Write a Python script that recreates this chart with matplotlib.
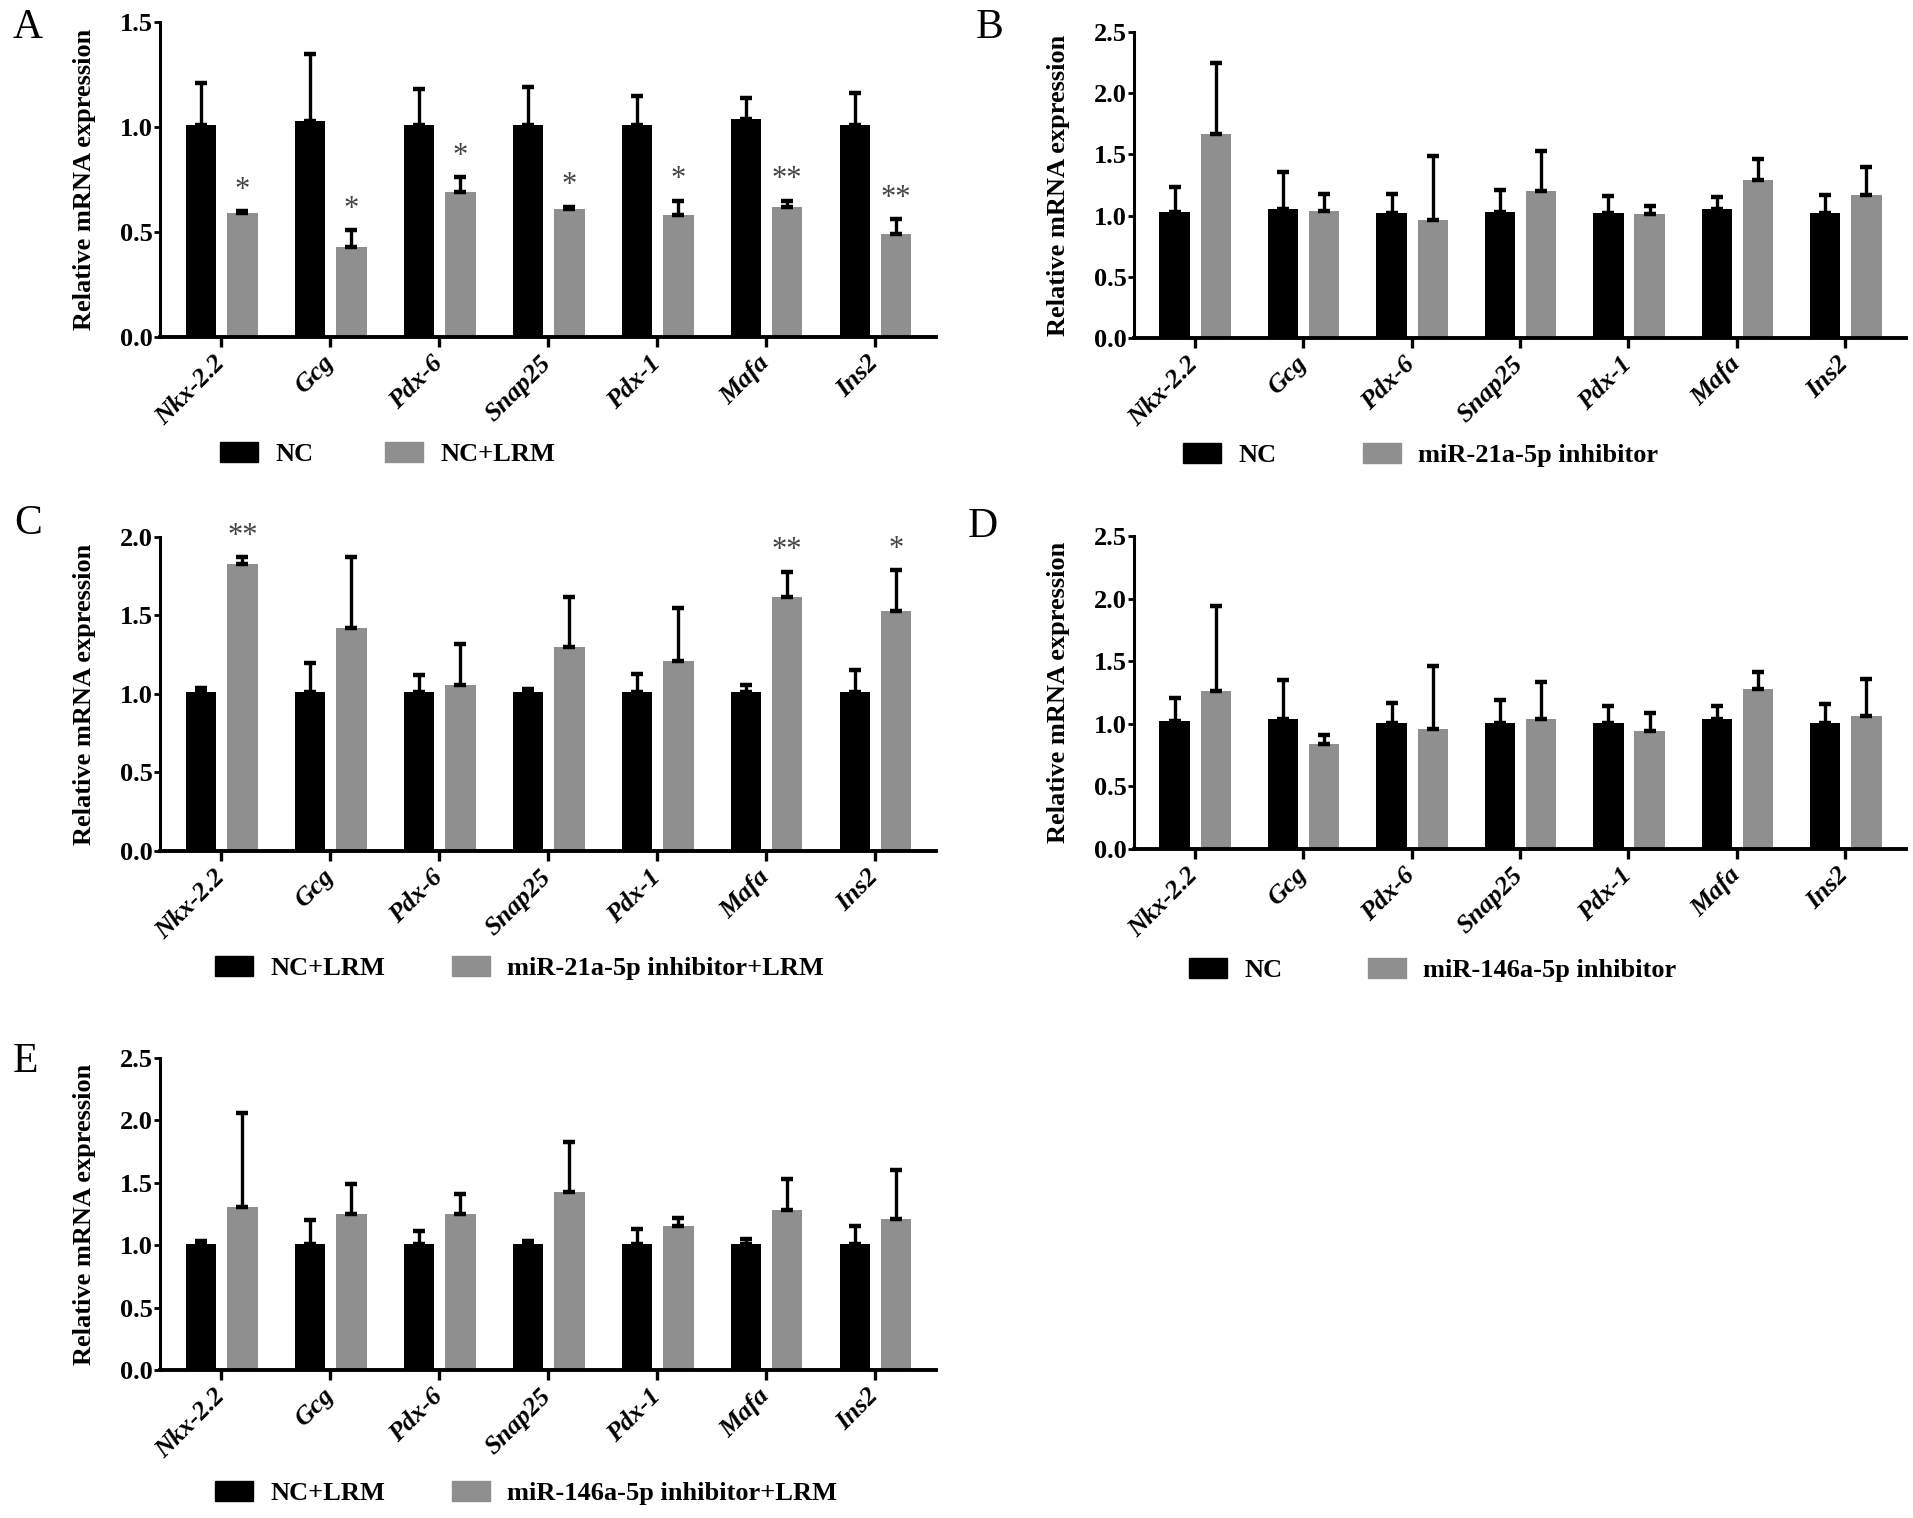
import numpy as np
import matplotlib.pyplot as plt
from matplotlib.patches import Patch

plt.rcParams['font.family'] = ['Liberation Serif', 'DejaVu Serif']

genes = ["Nkx-2.2", "Gcg", "Pdx-6", "Snap25", "Pdx-1", "Mafa", "Ins2"]

# panel A
a_nc = [1.01, 1.03, 1.01, 1.01, 1.01, 1.04, 1.01]
a_nc_err = [0.20, 0.32, 0.17, 0.18, 0.14, 0.10, 0.15]
a_lrm = [0.59, 0.43, 0.69, 0.61, 0.58, 0.62, 0.49]
a_lrm_err = [0.01, 0.08, 0.07, 0.01, 0.07, 0.03, 0.07]
a_sig = ["*", "*", "*", "*", "*", "**", "**"]

# panel B
b_nc = [1.03, 1.05, 1.02, 1.03, 1.02, 1.05, 1.02]
b_nc_err = [0.20, 0.31, 0.16, 0.18, 0.14, 0.10, 0.15]
b_inh = [1.67, 1.04, 0.96, 1.20, 1.01, 1.29, 1.17]
b_inh_err = [0.58, 0.14, 0.53, 0.33, 0.07, 0.17, 0.23]

# panel C
c_nc = [1.01, 1.01, 1.01, 1.01, 1.01, 1.01, 1.01]
c_nc_err = [0.03, 0.19, 0.11, 0.02, 0.12, 0.05, 0.14]
c_inh = [1.83, 1.42, 1.06, 1.30, 1.21, 1.62, 1.53]
c_inh_err = [0.04, 0.45, 0.26, 0.32, 0.34, 0.16, 0.26]
c_sig = ["**", "", "", "", "", "**", "*"]

# panel D
d_nc = [1.02, 1.04, 1.01, 1.01, 1.01, 1.04, 1.01]
d_nc_err = [0.19, 0.31, 0.16, 0.18, 0.13, 0.10, 0.15]
d_inh = [1.26, 0.84, 0.96, 1.04, 0.94, 1.28, 1.06]
d_inh_err = [0.68, 0.07, 0.50, 0.29, 0.15, 0.13, 0.30]

# panel E
e_nc = [1.01, 1.01, 1.01, 1.01, 1.01, 1.01, 1.01]
e_nc_err = [0.02, 0.19, 0.10, 0.02, 0.12, 0.04, 0.14]
e_inh = [1.31, 1.25, 1.25, 1.43, 1.15, 1.28, 1.21]
e_inh_err = [0.75, 0.24, 0.16, 0.40, 0.07, 0.25, 0.39]

W, H = 1913, 1518
fig = plt.figure(figsize=(W / 100, H / 100), dpi=100)

BLACK = "#000000"
GREY = "#8f8f8f"


def px(x, y):
    return x / W, 1 - y / H


def panel(rect, letter, letter_xy, ymax, nc, nc_err, tr, tr_err, names, leg_y, leg_x, sig=None):
    left, top, right, bottom = rect
    ax = fig.add_axes([left / W, 1 - bottom / H, (right - left) / W, (bottom - top) / H])
    x = np.arange(len(genes))
    w = 0.28
    ax.bar(x - 0.185, nc, w, color=BLACK, zorder=2)
    ax.bar(x + 0.195, tr, w, color=GREY, zorder=2)
    ax.errorbar(x - 0.185, nc, yerr=[np.zeros(len(nc)), nc_err], fmt="none",
                ecolor="black", elinewidth=2.4, capsize=4.5, capthick=3.2, zorder=3)
    ax.errorbar(x + 0.195, tr, yerr=[np.zeros(len(tr)), tr_err], fmt="none",
                ecolor="black", elinewidth=2.4, capsize=4.5, capthick=3.2, zorder=3)
    if sig is not None:
        for i, s in enumerate(sig):
            if s:
                ax.annotate(s, (x[i] + 0.195, tr[i] + tr_err[i]), xytext=(0, 15),
                            textcoords="offset points", ha="center", va="center",
                            fontsize=22, color="#444444", annotation_clip=False)
    ax.set_xlim(-0.56, 6.56)
    ax.set_ylim(0, ymax)
    ax.set_yticks(np.arange(0, ymax + 0.01, 0.5))
    ax.set_yticklabels(["%.1f" % v for v in np.arange(0, ymax + 0.01, 0.5)],
                       fontsize=19, fontweight="bold")
    ax.set_xticks(x)
    ax.set_xticklabels(genes, rotation=45, ha="right", va="center", rotation_mode="anchor",
                       fontsize=19, fontweight="bold", fontstyle="italic")
    for sp in ["top", "right"]:
        ax.spines[sp].set_visible(False)
    ax.spines["left"].set_linewidth(2.2)
    ax.spines["bottom"].set_linewidth(2.8)
    ax.tick_params(axis="y", length=4, width=2, pad=1)
    ax.tick_params(axis="x", length=7, width=2.4, pad=9)
    ax.set_ylabel("Relative mRNA expression", fontsize=19, fontweight="bold", labelpad=17)
    fig.text(*px(*letter_xy), letter, fontsize=30, ha="center", va="center")
    for name, col, lx in zip(names, [BLACK, GREY], leg_x):
        fig.legend(handles=[Patch(facecolor=col, edgecolor=col)], labels=[name],
                   loc="center left", bbox_to_anchor=px(lx, leg_y), frameon=False,
                   borderpad=0, borderaxespad=0, handlelength=1.45, handleheight=0.8,
                   handletextpad=0.65, prop={"size": 19, "weight": "bold"})
    return ax


panel((160, 22, 936, 337), "A", (28, 28), 1.5, a_nc, a_nc_err, a_lrm, a_lrm_err,
      ["NC", "NC+LRM"], 454, (220, 385), a_sig)
panel((1134, 32, 1906, 338), "B", (990, 28), 2.5, b_nc, b_nc_err, b_inh, b_inh_err,
      ["NC", "miR-21a-5p inhibitor"], 455, (1183, 1363))
panel((160, 537, 936, 851), "C", (28, 524), 2.0, c_nc, c_nc_err, c_inh, c_inh_err,
      ["NC+LRM", "miR-21a-5p inhibitor+LRM"], 968, (215, 452), c_sig)
panel((1134, 536, 1906, 849), "D", (983, 527), 2.5, d_nc, d_nc_err, d_inh, d_inh_err,
      ["NC", "miR-146a-5p inhibitor"], 970, (1189, 1368))
panel((160, 1058, 936, 1370), "E", (26, 1062), 2.5, e_nc, e_nc_err, e_inh, e_inh_err,
      ["NC+LRM", "miR-146a-5p inhibitor+LRM"], 1493, (215, 452))

fig.savefig("out.png", dpi=100)
